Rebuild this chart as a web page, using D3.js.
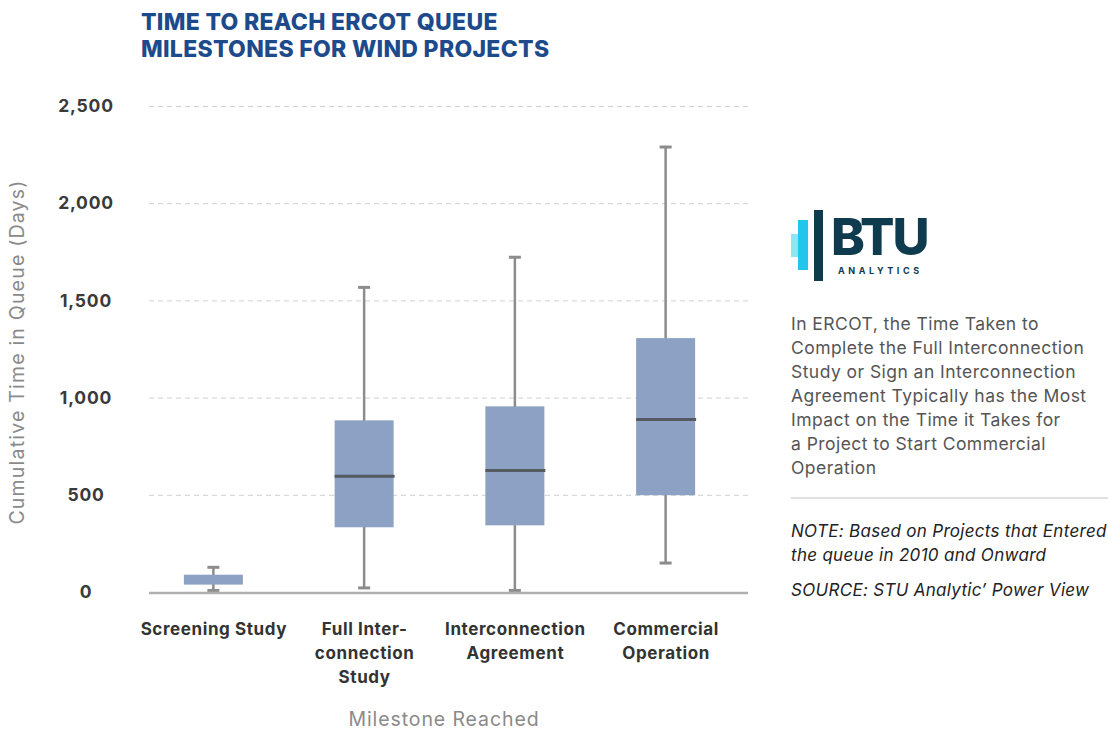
<!DOCTYPE html>
<html>
<head>
<meta charset="utf-8">
<script src="https://cdn.jsdelivr.net/npm/d3@7"></script>
<style>
  body { margin: 0; background: #fff; }
  svg { display: block; font-family: Inter, "Open Sans", sans-serif; }
</style>
</head>
<body>
<div id="chart"></div>
<script>
// data
const categories = ['Screening Study', 'Full Interconnection Study', 'Interconnection Agreement', 'Commercial Operation'];
const categoryLines = [['Screening Study'], ['Full Inter-', 'connection', 'Study'], ['Interconnection', 'Agreement'], ['Commercial', 'Operation']];
const whiskerLow = [8, 21, 8, 149];
const q1 = [38, 333, 343, 498];
const median = [null, 596, 625, 887];
const q3 = [89, 883, 955, 1306];
const whiskerHigh = [127, 1567, 1722, 2289];
const yTicks = [0, 500, 1000, 1500, 2000, 2500];

const width = 1108;
const height = 730;
const font = 'Inter, "Open Sans", sans-serif';

const svg = d3.select('#chart').append('svg')
  .attr('width', width)
  .attr('height', height);

const gridLeft = 149;
const gridRight = 748;

const xScale = d3.scalePoint()
  .domain(categories)
  .range([138, 741])
  .padding(0.5);

const yScale = d3.scaleLinear()
  .domain([0, 2500])
  .range([592, 106]);

const boxWidth = 59;
const capWidth = 12;

// title
svg.append('text')
  .attr('fill', '#1d4a8a')
  .style('font-size', '23px')
  .style('font-weight', 800)
  .style('letter-spacing', '0.3px')
  .selectAll('tspan')
  .data(['TIME TO REACH ERCOT QUEUE', 'MILESTONES FOR WIND PROJECTS'])
  .join('tspan')
  .attr('x', 141)
  .attr('y', (d, i) => 30 + i * 27)
  .text(d => d);

// grid lines
const grid = svg.append('g')
  .attr('transform', `translate(${gridLeft},0)`)
  .call(d3.axisLeft(yScale).tickValues(yTicks.filter(d => d > 0)).tickSize(-(gridRight - gridLeft)).tickFormat(''));
grid.select('.domain').remove();
grid.selectAll('.tick line')
  .attr('stroke', '#d0d0d0')
  .attr('stroke-dasharray', '5,4');

// y axis labels
const yAxis = svg.append('g')
  .attr('transform', `translate(${gridLeft},0)`)
  .call(d3.axisLeft(yScale).tickValues(yTicks).tickSize(0).tickFormat(d3.format(',')));
yAxis.select('.domain').remove();
yAxis.selectAll('.tick text')
  .attr('x', 86 - gridLeft)
  .attr('text-anchor', 'middle')
  .attr('fill', '#3a3a3a')
  .style('font-family', font)
  .style('font-size', '17.5px')
  .style('letter-spacing', '0.8px')
  .style('font-weight', 700);

svg.append('text')
  .attr('transform', `translate(24, 352) rotate(-90)`)
  .attr('text-anchor', 'middle')
  .attr('fill', '#8a8a8a')
  .style('font-size', '19.5px')
  .style('letter-spacing', '1.2px')
  .text('Cumulative Time in Queue (Days)');

// boxes
const idx = d3.range(categories.length);
const boxes = svg.append('g').selectAll('.gBox')
  .data(idx)
  .join('g')
  .attr('class', 'gBox')
  .attr('transform', i => `translate(${xScale(categories[i])},0)`);

boxes.append('line')
  .attr('y1', i => yScale(whiskerLow[i]))
  .attr('y2', i => yScale(whiskerHigh[i]))
  .attr('stroke', '#8c8c8c')
  .attr('stroke-width', 2.5);

boxes.selectAll('.cap')
  .data(i => [whiskerLow[i], whiskerHigh[i]])
  .join('line')
  .attr('class', 'cap')
  .attr('x1', -capWidth / 2)
  .attr('x2', capWidth / 2)
  .attr('y1', d => yScale(d))
  .attr('y2', d => yScale(d))
  .attr('stroke', '#8c8c8c')
  .attr('stroke-width', 3);

boxes.append('rect')
  .attr('x', -boxWidth / 2)
  .attr('width', boxWidth)
  .attr('y', i => yScale(q3[i]))
  .attr('height', i => yScale(q1[i]) - yScale(q3[i]))
  .attr('fill', '#8ca1c3');

boxes.filter(i => median[i] != null)
  .append('line')
  .attr('x1', -boxWidth / 2)
  .attr('x2', boxWidth / 2 + 1)
  .attr('y1', i => yScale(median[i]))
  .attr('y2', i => yScale(median[i]))
  .attr('stroke', '#555a60')
  .attr('stroke-width', 3);

// baseline
svg.append('line')
  .attr('x1', gridLeft)
  .attr('x2', gridRight)
  .attr('y1', yScale(0) + 1)
  .attr('y2', yScale(0) + 1)
  .attr('stroke', '#b0b0b0')
  .attr('stroke-width', 2.5);

// x axis labels
const xAxis = svg.append('g')
  .attr('transform', `translate(0,${yScale(0)})`)
  .call(d3.axisBottom(xScale).tickSize(0).tickFormat(''));
xAxis.select('.domain').remove();
xAxis.selectAll('.tick').each(function(d, i) {
  d3.select(this).append('text')
    .attr('text-anchor', 'middle')
    .attr('fill', '#333')
    .style('font-family', font)
    .style('font-size', '17px')
    .style('letter-spacing', '0.6px')
    .style('font-weight', 700)
    .selectAll('tspan')
    .data(categoryLines[i])
    .join('tspan')
    .attr('x', 0)
    .attr('y', (t, k) => 43 + k * 24)
    .text(t => t);
});

svg.append('text')
  .attr('x', 444)
  .attr('y', 726)
  .attr('text-anchor', 'middle')
  .attr('fill', '#8a8a8a')
  .style('font-size', '19.5px')
  .style('letter-spacing', '0.9px')
  .text('Milestone Reached');

// logo
const logo = svg.append('g');
logo.append('rect').attr('x', 791).attr('y', 234).attr('width', 7).attr('height', 23).attr('fill', '#8ee6f3');
logo.append('rect').attr('x', 798).attr('y', 220).attr('width', 10).attr('height', 50).attr('fill', '#22c6ec');
logo.append('rect').attr('x', 814).attr('y', 210).attr('width', 9).attr('height', 71).attr('fill', '#0f3b4f');
logo.append('text')
  .attr('x', 831)
  .attr('y', 255)
  .attr('fill', '#0f3b4f')
  .style('font-size', '51px')
  .style('font-weight', 800)
  .style('letter-spacing', '-2px')
  .text('BTU');
logo.append('text')
  .attr('x', 838)
  .attr('y', 274)
  .attr('fill', '#0f3b4f')
  .style('font-size', '9px')
  .style('font-weight', 700)
  .style('letter-spacing', '3.6px')
  .text('ANALYTICS');

// side notes
const noteLines = [
  'In ERCOT, the Time Taken to',
  'Complete the Full Interconnection',
  'Study or Sign an Interconnection',
  'Agreement Typically has the Most',
  'Impact on the Time it Takes for',
  'a Project to Start Commercial',
  'Operation'
];
svg.append('text')
  .attr('fill', '#555')
  .style('font-size', '17.5px')
  .style('letter-spacing', '0.45px')
  .selectAll('tspan')
  .data(noteLines)
  .join('tspan')
  .attr('x', 791)
  .attr('y', (d, i) => 330 + i * 24)
  .text(d => d);

svg.append('line')
  .attr('x1', 791)
  .attr('x2', 1108)
  .attr('y1', 498)
  .attr('y2', 498)
  .attr('stroke', '#d6d6d6')
  .attr('stroke-width', 1.5);

const sourceLines = [
  ['NOTE: Based on Projects that Entered', 537],
  ['the queue in 2010 and Onward', 561],
  ['SOURCE: STU Analytic\u2019 Power View', 596]
];
svg.append('text')
  .attr('fill', '#222')
  .style('font-size', '17px')
  .style('letter-spacing', '0.3px')
  .style('font-style', 'italic')
  .selectAll('tspan')
  .data(sourceLines)
  .join('tspan')
  .attr('x', 791)
  .attr('y', d => d[1])
  .text(d => d[0]);
</script>
</body>
</html>
